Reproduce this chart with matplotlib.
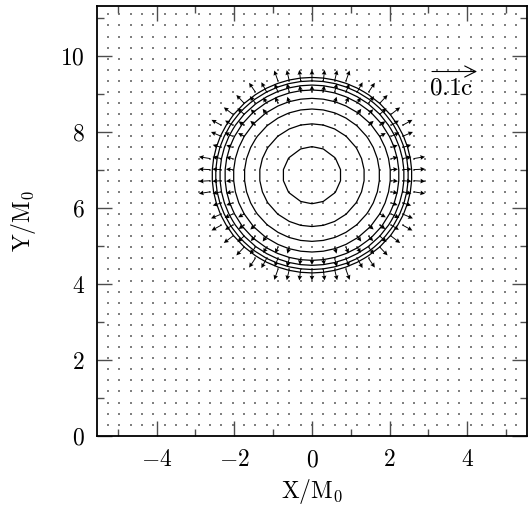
import numpy as np
import matplotlib
matplotlib.use("Agg")
import matplotlib.pyplot as plt
from matplotlib.ticker import MultipleLocator, FuncFormatter

plt.rcParams['mathtext.fontset'] = 'cm'
plt.rcParams['font.family'] = 'serif'

# star centre and density contour radii (in M0)
star_center = (0.0, 6.854)
contour_radii = [0.75, 1.35, 1.74, 2.02, 2.24, 2.37, 2.48, 2.57]

# radial outflow speed (units of c) in shells around the surface
shell_edges = [1.95, 2.25, 2.45, 2.70]
shell_speeds = [0.015, 0.020, 0.025]

key_speed = 0.1
key_label = r'$0.1\mathrm{c}$'

# grid of the simulation output
dx = 7.0 / 24.0
xs = np.arange(-18, 19) * dx
ys = np.arange(1, 39) * dx
X, Y = np.meshgrid(xs, ys)
R = np.hypot(X - star_center[0], Y - star_center[1])

speed = np.zeros_like(R)
for lo, hi, v in zip(shell_edges[:-1], shell_edges[1:], shell_speeds):
    speed[(R >= lo) & (R < hi)] = v
U = speed * (X - star_center[0]) / R
V = speed * (Y - star_center[1]) / R

fig = plt.figure(figsize=(5.31, 5.08), dpi=100)
ax = fig.add_axes([0.183, 0.142, 0.809, 0.846])

scale = key_speed / 1.16  # speed per unit length in xy

ax.scatter(X.ravel(), Y.ravel(), s=0.6, c='0.5', marker='s', linewidths=0)
ax.contour(X, Y, R, levels=contour_radii, colors='k', linewidths=0.9)
m = speed > 0
ax.quiver(X[m], Y[m], U[m], V[m], angles='xy', scale_units='xy', scale=scale,
          width=0.0022, headwidth=5, headlength=5, headaxislength=4.5, color='k')

kx, ky = 3.09, 9.58
ax.annotate('', xy=(kx + key_speed / scale, ky), xytext=(kx, ky),
            arrowprops=dict(arrowstyle='->', lw=0.8, mutation_scale=20, shrinkA=0, shrinkB=0))
ax.text(kx - 0.08, ky - 0.12, key_label, fontsize=18, ha='left', va='top')

ax.set_xlim(-5.53, 5.53)
ax.set_ylim(0, 11.3)
ax.xaxis.set_major_locator(MultipleLocator(2))
ax.xaxis.set_minor_locator(MultipleLocator(1))
ax.yaxis.set_major_locator(MultipleLocator(2))
ax.yaxis.set_minor_locator(MultipleLocator(1))
fmt = FuncFormatter(lambda v, p: r'$%d$' % round(v))
ax.xaxis.set_major_formatter(fmt)
ax.yaxis.set_major_formatter(fmt)
ax.tick_params(which='both', direction='in', top=True, right=True, color='0.3', width=1.0,
               labelsize=17)
ax.tick_params(which='major', length=11, pad=9)
ax.tick_params(which='minor', length=5)
for s in ax.spines.values():
    s.set_linewidth(1.3)

ax.set_xlabel(r'$\mathrm{X/M_0}$', fontsize=17, labelpad=4)
ax.set_ylabel(r'$\mathrm{Y/M_0}$', fontsize=17, labelpad=16)

fig.savefig('out.png', dpi=100)
